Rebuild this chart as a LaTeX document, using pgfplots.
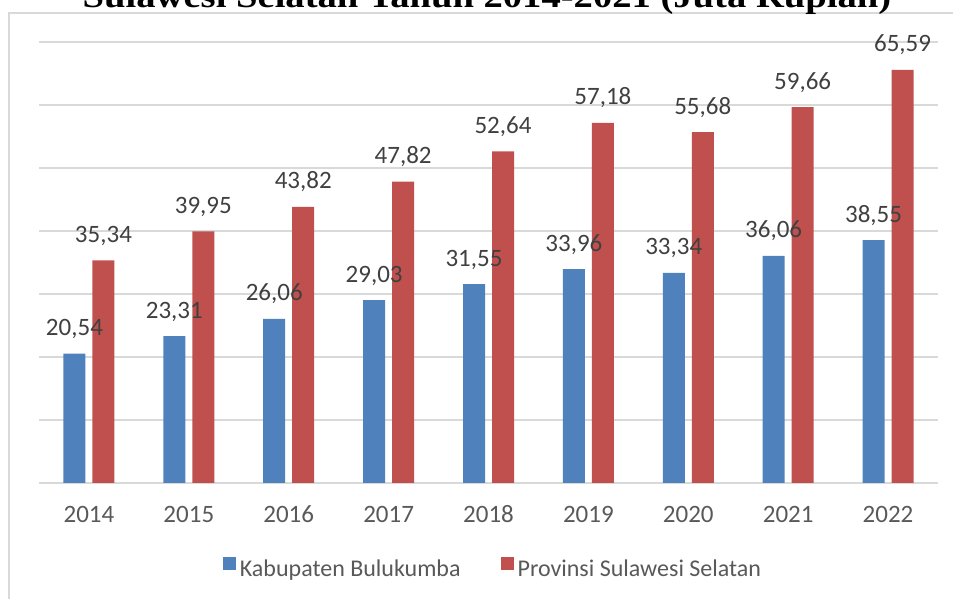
\documentclass[border=0pt]{standalone}
\usepackage{fontspec}
\setmainfont{Carlito}
\newfontfamily\titlefont{Liberation Serif}
\usepackage{pgfplots}
\pgfplotsset{compat=1.18}

\definecolor{kabblue}{HTML}{4F81BD}
\definecolor{provred}{HTML}{C0504D}
\definecolor{gridgray}{HTML}{D9D9D9}
\definecolor{labgray}{HTML}{404040}
\definecolor{tickgray}{HTML}{595959}

\begin{document}
\begin{tikzpicture}[x=1pt,y=1pt]
\useasboundingbox (0,0) rectangle (953,599);
\clip (0,0) rectangle (953,599);
% outer chart frame (runs past the crop)
\draw[gridgray, line width=1.5pt] (9,-20) -- (9,586) -- (980,586);
% title, cut off at the top edge
\node[anchor=base, inner sep=0pt] at (487,591)
  {\scalebox{1.17}[1]{\titlefont\bfseries\fontsize{33}{36}\selectfont Sulawesi Selatan Tahun 2014-2021 (Juta Rupiah)}};

\begin{axis}[
    at={(39pt,116pt)}, anchor=south west,
    scale only axis,
    width=899pt, height=441pt,
    ybar=7pt, bar width=22pt,
    xmin=-0.5, xmax=8.5,
    ymin=0, ymax=70,
    xtick={0,...,8},
    xticklabels={2014,2015,2016,2017,2018,2019,2020,2021,2022},
    ytick={0,10,...,70},
    yticklabels={},
    ymajorgrids,
    grid style={gridgray, line width=1.4pt},
    axis line style={draw=none},
    major tick length=0pt,
    xticklabel style={anchor=base, yshift=-40pt, text=tickgray,
        font=\fontsize{25}{28}\selectfont},
    nodes near coords,
    /pgf/number format/.cd, use comma, fixed, fixed zerofill, precision=2,
        assume math mode=true,
    /pgfplots/.cd,
    every node near coord/.append style={anchor=base, yshift=18pt,
        text=labgray, font=\fontsize{25}{28}\selectfont},
    legend columns=2,
    legend style={at={(0.505,-0.193)}, anchor=center, draw=none,
        text=tickgray, font=\fontsize{24}{27}\selectfont,
        nodes={inner sep=2pt},
        /tikz/every odd column/.append style={column sep=2pt},
        /tikz/every even column/.append style={column sep=38pt}},
    legend image code/.code={\fill[#1] (0pt,-1pt) rectangle (13pt,12pt);},
]
\addplot[fill=kabblue, draw=none] coordinates {
(0,20.54) (1,23.31) (2,26.06) (3,29.03) (4,31.55) (5,33.96) (6,33.34) (7,36.06) (8,38.55)
};
\addplot[fill=provred, draw=none] coordinates {
(0,35.34) (1,39.95) (2,43.82) (3,47.82) (4,52.64) (5,57.18) (6,55.68) (7,59.66) (8,65.59)
};
\legend{Kabupaten Bulukumba, Provinsi Sulawesi Selatan}
\end{axis}
\end{tikzpicture}
\end{document}
